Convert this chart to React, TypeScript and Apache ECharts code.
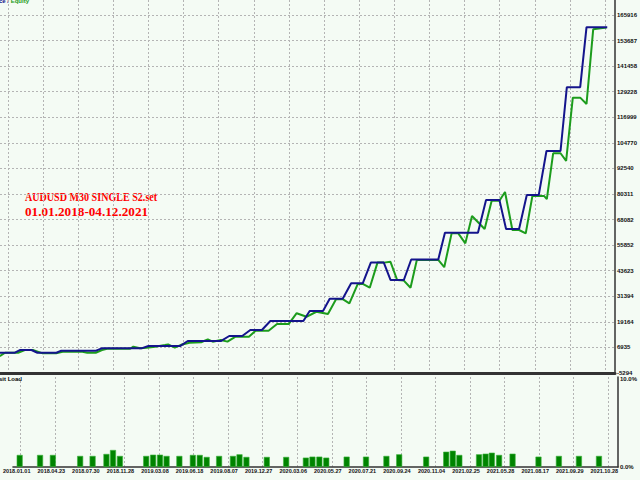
import React, { useEffect, useRef } from "react";
import * as echarts from "echarts";

const dateLabels = [
  "2018.01.01", "2018.04.23", "2018.07.30", "2018.11.28", "2019.03.08", "2019.06.18",
  "2019.08.07", "2019.12.27", "2020.03.06", "2020.05.27", "2020.07.21", "2020.09.24",
  "2020.11.04", "2021.02.25", "2021.05.28", "2021.08.17", "2021.09.29", "2021.10.28",
];
const xTicks = [0, 10, 20, 30, 40, 50, 60, 70, 80, 90, 100, 110, 120, 130, 140, 150, 160, 170];
const yTicks = [
  -5294, 6935, 19164, 31394, 43623, 55852, 68082, 80311, 92540, 104770, 116999, 129228,
  141458, 153687, 165916,
];
const loadTicks = [0, 10];

const balanceX = [
  -2.3, 2.0, 3.4, 6.7, 8.4, 13.8, 15.2, 25.1, 26.7, 38.0, 40.0, 49.0, 51.2, 60.6, 63.0, 66.7,
  69.0, 72.3, 74.7, 84.1, 85.9, 89.7, 91.6, 95.3, 97.7, 101.0, 103.3, 107.0, 108.9, 112.7,
  114.8, 122.5, 124.4, 133.8, 136.1, 139.9, 141.8, 145.5, 147.7, 151.1, 153.3, 157.3, 159.1,
  162.9, 164.7, 170.6,
];
const balanceY = [
  4400, 4400, 5700, 5700, 4400, 4400, 5400, 5400, 6500, 6500, 7600, 7600, 10000, 10000,
  12400, 12400, 15300, 15300, 19600, 19600, 24400, 24400, 30200, 30200, 37600, 37600, 47500,
  47500, 39200, 39200, 49000, 49000, 61800, 61800, 77500, 77500, 63600, 63600, 79800, 79800,
  100900, 100900, 131400, 131400, 160100, 160100,
];

const equityX = [
  -2.3, -0.8, 2.9, 4.8, 7.1, 8.5, 9.9, 13.7, 15.6, 21.2, 22.6, 25.0, 26.8, 28.2, 34.8, 35.7,
  37.6, 39.5, 41.9, 44.7, 45.6, 47.5, 49.3, 51.7, 55.0, 56.9, 58.3, 60.6, 62.5, 64.8, 68.6,
  70.5, 74.2, 76.6, 79.9, 82.2, 85.0, 87.8, 91.1, 93.4, 95.3, 97.2, 99.6, 101.0, 103.0, 105.2,
  107.0, 108.9, 110.8, 112.7, 114.6, 116.4, 122.5, 124.2, 126.3, 128.2, 130.2, 132.1, 135.7,
  137.7, 139.9, 141.5, 143.6, 145.5, 147.4, 149.3, 152.6, 153.4, 155.2, 157.3, 158.9, 160.8,
  162.9, 164.7, 166.6, 170.4,
];
const equityY = [
  2800, 4400, 4400, 5700, 5700, 4900, 4100, 4100, 4900, 4900, 4400, 4400, 5700, 6300, 6300,
  7300, 6500, 6800, 7300, 8100, 8400, 6800, 8200, 9200, 9400, 10800, 9700, 10500, 9700, 12100,
  12100, 14900, 14900, 18100, 18100, 23300, 21600, 24000, 22900, 30000, 30000, 28000, 37300,
  37300, 35500, 47500, 47500, 47900, 39200, 38900, 35500, 48800, 48800, 45300, 61500, 61500,
  56700, 69800, 63600, 77100, 77100, 81300, 63100, 63100, 61500, 79400, 79400, 77900, 99800,
  99800, 96200, 126400, 126400, 123400, 159100, 159900,
];

const loadX = [
  -0.3, 5.6, 9.3, 17.2, 20.8, 24.8, 26.7, 28.7, 36.3, 38.3, 40.3, 42.2, 45.9, 49.8, 51.8, 53.8,
  57.4, 61.4, 63.3, 65.3, 71.2, 76.8, 82.5, 84.4, 86.4, 88.4, 94.3, 99.9, 105.8, 109.5, 117.3,
  123.1, 125.0, 126.9, 132.6, 134.5, 136.3, 138.4, 142.3, 149.8, 155.7, 161.5, 167.3,
];
const loadY = [
  1.34, 1.34, 1.34, 1.23, 1.23, 1.45, 1.89, 1.23, 1.23, 1.37, 1.37, 1.23, 1.23, 1.34, 1.34,
  1.12, 1.23, 1.23, 1.41, 1.12, 1.12, 1.12, 1.04, 1.15, 1.15, 1.04, 1.15, 1.15, 1.23, 1.41,
  1.15, 1.7, 1.81, 1.34, 1.41, 1.48, 1.59, 1.34, 1.48, 1.15, 1.23, 1.23, 1.23,
];

const titleLines = ["AUDUSD M30 SINGLE S2.set", "01.01.2018-04.12.2021"];

export default function App() {
  const ref = useRef<HTMLDivElement>(null);
  useEffect(() => {
    if (!ref.current) return;
    const chart = echarts.init(ref.current, null, { renderer: "svg" });
    const small = { fontFamily: "Liberation Sans", fontSize: 6, fontWeight: "bold", color: "#111" };
    const dashed = { show: true, lineStyle: { color: "#b4b4b4", type: [2, 2], width: 1 } };
    const xBase = { type: "value", min: -2.25, max: 172.8 };
    const option: any = {
      animation: false,
      backgroundColor: "#f4fbf4",
      grid: [
        { left: 0, top: 0, right: 18, bottom: 107 },
        { left: 0, top: 377, right: 18, bottom: 13 },
      ],
      xAxis: [
        {
          ...xBase,
          gridIndex: 0,
          axisLine: { show: true, onZero: false, lineStyle: { color: "#333", width: 3 } },
          axisTick: { show: false, customValues: xTicks },
          axisLabel: { show: false, customValues: xTicks },
          splitLine: dashed,
        },
        {
          ...xBase,
          gridIndex: 1,
          axisLine: { show: true, onZero: false, lineStyle: { color: "#333", width: 1.5 } },
          axisTick: { show: false, customValues: xTicks },
          axisLabel: {
            ...small,
            fontSize: 5.5,
            customValues: xTicks,
            margin: 1,
            padding: [0, 8, 0, 0],
            formatter: (v: number) => {
              const i = xTicks.indexOf(Math.round(v));
              return i >= 0 ? dateLabels[i] : "";
            },
          },
          splitLine: dashed,
        },
      ],
      yAxis: [
        {
          type: "value",
          gridIndex: 0,
          position: "right",
          min: -5294,
          max: 173112,
          axisLine: { show: true, onZero: false, lineStyle: { color: "#333", width: 1.5 } },
          axisTick: { show: false, customValues: yTicks },
          axisLabel: {
            ...small,
            customValues: yTicks,
            margin: 2,
            formatter: (v: number) => String(Math.round(v)),
          },
          splitLine: dashed,
        },
        {
          type: "value",
          gridIndex: 1,
          position: "right",
          min: 0,
          max: 10,
          axisLine: { show: true, onZero: false, lineStyle: { color: "#333", width: 1.5 } },
          axisTick: { show: false, customValues: loadTicks },
          axisLabel: {
            ...small,
            customValues: loadTicks,
            margin: 2,
            formatter: (v: number) =>
              v > 5 ? "{t|" + v.toFixed(1) + "%}" : v.toFixed(1) + "%",
            rich: {
              t: {
                fontFamily: "Liberation Sans",
                fontSize: 6,
                fontWeight: "bold",
                color: "#111",
                padding: [3, 0, 0, 0],
              },
            },
          },
          splitLine: { show: false },
        },
      ],
      series: [
        {
          type: "line",
          name: "Equity",
          xAxisIndex: 0,
          yAxisIndex: 0,
          data: equityX.map((x, i) => [x, equityY[i]]),
          showSymbol: false,
          lineStyle: { color: "#1c9c1c", width: 2 },
          itemStyle: { color: "#1c9c1c" },
        },
        {
          type: "line",
          name: "Balance",
          xAxisIndex: 0,
          yAxisIndex: 0,
          data: balanceX.map((x, i) => [x, balanceY[i]]),
          showSymbol: false,
          lineStyle: { color: "#14148c", width: 2 },
          itemStyle: { color: "#14148c" },
        },
        {
          type: "bar",
          name: "Deposit Load",
          xAxisIndex: 1,
          yAxisIndex: 1,
          barWidth: 6,
          data: loadX.map((x, i) => [x, loadY[i]]),
          itemStyle: { color: "#008400", borderColor: "#3cb43c", borderWidth: 0.6 },
        },
      ],
      graphic: [
        {
          type: "text",
          x: 29,
          y: 1,
          style: {
            text: "{b|Balance /} {e|Equity}",
            align: "right",
            textAlign: "right",
            verticalAlign: "middle",
            textVerticalAlign: "middle",
            rich: {
              b: { fill: "#14148c", fontSize: 6, fontWeight: "bold", fontFamily: "Liberation Sans" },
              e: { fill: "#1c9c1c", fontSize: 6, fontWeight: "bold", fontFamily: "Liberation Sans" },
            },
            font: "bold 6px Liberation Sans",
          },
        },
        {
          type: "text",
          x: 22,
          y: 379,
          style: {
            text: "Deposit Load",
            align: "right",
            textAlign: "right",
            verticalAlign: "middle",
            textVerticalAlign: "middle",
            fill: "#000",
            font: "bold 6px Liberation Sans",
          },
        },
        {
          type: "text",
          x: 25,
          y: 197,
          scaleX: 0.84,
          style: {
            text: titleLines[0],
            align: "left",
            textAlign: "left",
            verticalAlign: "middle",
            textVerticalAlign: "middle",
            fill: "#ff0000",
            font: "bold 12px Liberation Serif",
          },
        },
        {
          type: "text",
          x: 25,
          y: 212,
          scaleX: 1.1,
          style: {
            text: titleLines[1],
            align: "left",
            textAlign: "left",
            verticalAlign: "middle",
            textVerticalAlign: "middle",
            fill: "#ff0000",
            font: "bold 12px Liberation Serif",
          },
        },
      ],
    };
    chart.setOption(option);
    return () => chart.dispose();
  }, []);
  return (
    <div
      ref={ref}
      style={{ position: "fixed", left: 0, top: 0, width: 640, height: 480 }}
    />
  );
}
